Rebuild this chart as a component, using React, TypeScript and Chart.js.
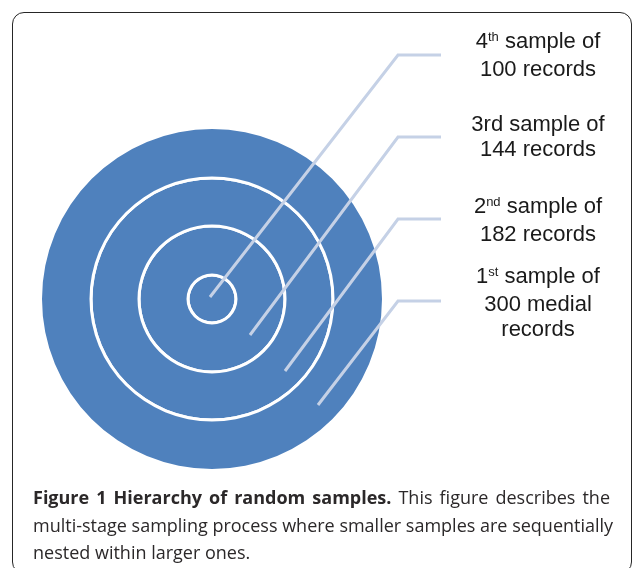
import React, { useEffect, useRef } from "react";
import Chart from "chart.js/auto";

// ---- Data ----
// Samples, from the outermost ring inward
const sampleOrdinals = ["1", "2", "3rd", "4"];
const sampleSuffixes = ["st", "nd", "", "th"];
const sampleCounts = [300, 182, 144, 100];
// Relative thickness of each ring band, outermost first (blue / white separators)
const ringWeights = [47.5, 3, 45, 3, 46, 3, 22.5];
const ringIsSeparator = [false, true, false, true, false, true, false];
// Leader lines (x, y) in figure units: [inner end, bend, label end], innermost sample first
const leaderX = [
  [210, 398, 441],
  [250, 398, 441],
  [285, 398, 441],
  [318, 398, 441],
];
const leaderY = [
  [297, 55, 55],
  [335, 137, 137],
  [371, 219, 219],
  [405, 301, 301],
];

const BLUE = "#4f81bd";
const LEADER = "#c5d1e6";

export default function App() {
  const ringRef = useRef<HTMLCanvasElement | null>(null);
  const lineRef = useRef<HTMLCanvasElement | null>(null);

  useEffect(() => {
    const ringChart = new Chart(ringRef.current as HTMLCanvasElement, {
      type: "doughnut",
      data: {
        labels: ["ring"],
        datasets: ringWeights.map((w, i) => ({
          data: [1],
          weight: w,
          backgroundColor: ringIsSeparator[i] ? "#ffffff" : BLUE,
          borderWidth: 0,
          hoverOffset: 0,
          offset: 0,
        })),
      },
      options: {
        responsive: false,
        maintainAspectRatio: false,
        animation: false,
        cutout: 0,
        layout: { padding: 0 },
        events: [],
        plugins: { legend: { display: false }, tooltip: { enabled: false } },
      } as any,
    });

    const lineChart = new Chart(lineRef.current as HTMLCanvasElement, {
      type: "scatter",
      data: {
        datasets: leaderX.map((xs, i) => ({
          data: xs.map((x, j) => ({ x, y: leaderY[i][j] })),
          showLine: true,
          borderColor: LEADER,
          borderWidth: 3,
          pointRadius: 0,
          tension: 0,
          borderCapStyle: "butt",
          borderJoinStyle: "miter",
        })),
      },
      options: {
        responsive: false,
        maintainAspectRatio: false,
        animation: false,
        layout: { padding: 0 },
        events: [],
        scales: {
          x: { type: "linear", min: 0, max: 633, display: false },
          y: { type: "linear", min: 0, max: 568, reverse: true, display: false },
        },
        plugins: { legend: { display: false }, tooltip: { enabled: false } },
      } as any,
    });

    return () => {
      ringChart.destroy();
      lineChart.destroy();
    };
  }, []);

  const labelTops = [263, 193, 111, 28];
  const labelFont = '"Liberation Sans", Arial, Helvetica, sans-serif';
  const captionFont = '"Open Sans", "Noto Sans", sans-serif';

  const renderLabel = (i: number) => {
    const sup = sampleSuffixes[i];
    const lines: React.ReactNode[] = [];
    lines.push(
      <div key="a">
        {sampleOrdinals[i]}
        {sup ? (
          <span style={{ fontSize: 13, position: "relative", top: -7 }}>{sup}</span>
        ) : null}{" "}
        sample of
      </div>
    );
    if (i === 0) {
      lines.push(<div key="b">{sampleCounts[i]} medial</div>);
      lines.push(<div key="c">records</div>);
    } else {
      lines.push(<div key="b">{sampleCounts[i]} records</div>);
    }
    return (
      <div
        key={i}
        style={{
          position: "absolute",
          left: 438,
          width: 200,
          top: labelTops[i],
          textAlign: "center",
          fontFamily: labelFont,
          fontSize: 22,
          lineHeight: "25px",
          color: "#1a1a1a",
          whiteSpace: "nowrap",
        }}
      >
        {lines}
      </div>
    );
  };

  return (
    <div
      style={{
        position: "absolute",
        left: 0,
        top: 0,
        width: 633,
        height: 568,
        overflow: "hidden",
        background: "#ffffff",
      }}
    >
      <div
        style={{
          position: "absolute",
          left: 12,
          top: 12,
          width: 618,
          height: 560,
          border: "1.8px solid #262626",
          borderRadius: 12,
        }}
      />
      <canvas
        ref={ringRef}
        width={340}
        height={340}
        style={{ position: "absolute", left: 42, top: 129, width: 340, height: 340 }}
      />
      <canvas
        ref={lineRef}
        width={633}
        height={568}
        style={{ position: "absolute", left: 0, top: 0, width: 633, height: 568 }}
      />
      {[0, 1, 2, 3].map(renderLabel)}
      <div
        style={{
          position: "absolute",
          left: 33,
          top: 484,
          width: 577,
          fontFamily: captionFont,
          fontSize: 18,
          lineHeight: "27.5px",
          color: "#2b2829",
          whiteSpace: "nowrap",
        }}
      >
        <div style={{ textAlign: "justify", textAlignLast: "justify", whiteSpace: "normal" } as any}>
          <b>Figure 1 Hierarchy of random samples.</b> This figure describes the
        </div>
        <div>multi-stage sampling process where smaller samples are sequentially</div>
        <div>nested within larger ones.</div>
      </div>
    </div>
  );
}
